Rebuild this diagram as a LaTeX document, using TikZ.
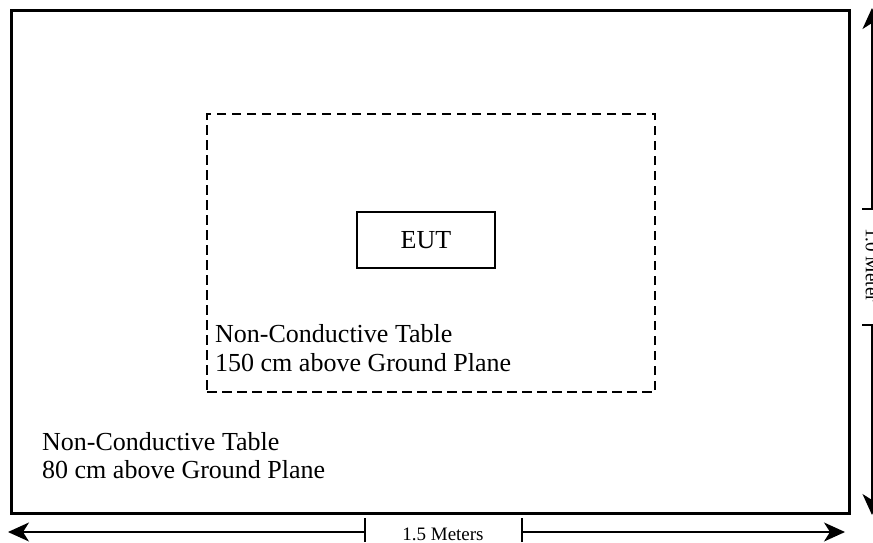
\documentclass[tikz,border=0pt]{standalone}
\usepackage{fontspec}
\setmainfont{Liberation Serif}
\usetikzlibrary{arrows.meta}
\begin{document}
\begin{tikzpicture}[x=1pt,y=-1pt,
  txt/.style={inner sep=0pt, font=\fontsize{26}{29}\selectfont},
  dimtxt/.style={inner sep=0pt, font=\fontsize{19}{22}\selectfont},
  box/.style={draw, inner sep=0pt},
  dimline/.style={line width=1.4pt},
  tipped/.style={dimline, -{Stealth[length=21pt,width=19pt,inset=6pt]}}]
\useasboundingbox (0,0) rectangle (873,543);
% outer table
\node[box, line width=3pt, minimum width=838pt, minimum height=502pt] (outer) at (430,262) {};
% inner dashed table
\node[box, line width=2.5pt, dash pattern=on 9.5pt off 5.5pt, minimum width=448pt, minimum height=278pt] (inner) at (431,253) {};
% EUT
\node[box, line width=1.5pt, minimum width=138pt, minimum height=56pt, txt] (eut) at (426,240) {EUT};
% labels
\node[txt, anchor=base west] (in1) at (215,342) {Non-Conductive Table};
\node[txt, anchor=base west] (in2) at (215,371) {150 cm above Ground Plane};
\node[txt, anchor=base west] (out1) at (42,450) {Non-Conductive Table};
\node[txt, anchor=base west] (out2) at (42,478) {80 cm above Ground Plane};
% horizontal dimension
\coordinate (hl) at (8,532);
\coordinate (hr) at (845,532);
\coordinate (hb1) at (365,532);
\coordinate (hb2) at (522,532);
\node[dimtxt, anchor=base] (hlabel) at (443,540) {1.5 Meters};
\draw[tipped] (hb1) -- (hl);
\draw[tipped] (hb2) -- (hr);
\draw[dimline] ([yshift=-10pt]hb1) -- ([yshift=14pt]hb1);
\draw[dimline] ([yshift=-10pt]hb2) -- ([yshift=14pt]hb2);
% vertical dimension
\coordinate (vt) at (872,8);
\coordinate (vb) at (872,515);
\coordinate (vk1) at (872,209);
\coordinate (vk2) at (872,325);
\node[dimtxt, rotate=-90, anchor=center] (vlabel) at (872,265) {1.0 Meter};
\draw[tipped] (vk1) -- (vt);
\draw[tipped] (vk2) -- (vb);
\draw[dimline] ([xshift=-10pt]vk1) -- ([xshift=14pt]vk1);
\draw[dimline] ([xshift=-10pt]vk2) -- ([xshift=14pt]vk2);
\end{tikzpicture}
\end{document}
